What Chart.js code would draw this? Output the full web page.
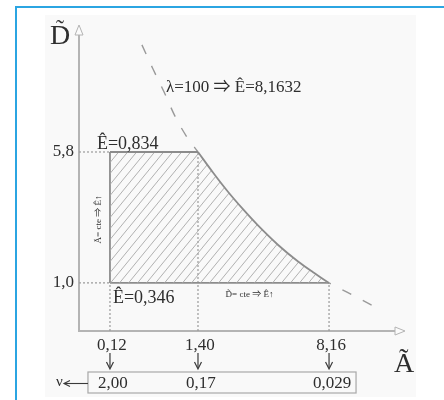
<!DOCTYPE html>
<html><head><meta charset="utf-8">
<script src="https://cdn.jsdelivr.net/npm/chart.js@4.4.0/dist/chart.umd.min.js"></script>
<style>html,body{margin:0;padding:0;background:#fff;}canvas{display:block;}</style>
</head><body>
<canvas id="c" width="444" height="400"></canvas>
<script>
// ---- data (schematic diagram units: 0..10 on each axis) ----
const xTickLabels = ['0,12', '1,40', '8,16'];
const xTickPos = [0.95, 3.65, 7.67];
const yTickLabels = ['5,8', '1,0'];
const yTickPos = [5.85, 1.57];
const nuLabels = ['2,00', '0,17', '0,029'];
const eLabels = ['Ê=0,834', 'Ê=0,346'];
const curveLabel = 'λ=100 ⇒ Ê=8,1632';
const sideLabelA = 'Ã= cte ⇒ Ê↑';
const sideLabelD = 'D\u0303= cte ⇒ Ê↑';
const axisNameY = 'D';
const axisNameX = 'Ã';
const nuName = 'ν';
const solidCurveX = [3.65, 4.11, 4.57, 5.03, 5.49, 6.10, 6.72, 7.18, 7.67];
const solidCurveY = [5.85, 5.18, 4.55, 3.98, 3.45, 2.82, 2.27, 1.92, 1.57];
const dashUpperX = [1.93, 2.27, 2.61, 2.94, 3.31, 3.65];
const dashUpperY = [9.35, 8.56, 7.81, 7.03, 6.34, 5.85];
const dashLowerX = [7.67, 8.22, 9.02];
const dashLowerY = [1.57, 1.27, 0.82];

const pts = (xs, ys) => xs.map((x, i) => ({x, y: ys[i]}));
const SERIF = '"Liberation Serif","Noto Sans CJK JP",serif';
const TXT = '#2e2e2e';

const canvas = document.getElementById('c');
const mainCtx = canvas.getContext('2d');
function hatchPattern() {
  const w = 9, h = 11;
  const t = document.createElement('canvas');
  t.width = w; t.height = h;
  const g = t.getContext('2d');
  g.strokeStyle = '#a8a8a8';
  g.lineWidth = 0.9;
  for (let n = 0; n <= 2; n++) {
    g.beginPath();
    g.moveTo(-w, h * (n + 1));
    g.lineTo(2 * w, h * (n - 2));
    g.stroke();
  }
  return mainCtx.createPattern(t, 'repeat');
}
const hatch = hatchPattern();

const xA = xTickPos[0], xB = xTickPos[1], xC = xTickPos[2];
const yTop = yTickPos[0], yBase = yTickPos[1];

const edge = '#8c8c8c', dotC = '#9a9a9a';
const line = (data, extra) => Object.assign({
  data, showLine: true, pointRadius: 0, borderColor: edge, borderWidth: 1.8,
  fill: false, tension: 0, clip: false
}, extra || {});

const datasets = [
  line(pts([xA, xB], [yTop, yTop]), {fill: {value: yBase}, backgroundColor: hatch}),
  line(pts(solidCurveX, solidCurveY), {fill: {value: yBase}, backgroundColor: hatch, cubicInterpolationMode: 'monotone'}),
  line(pts([xA, xA], [yBase, yTop])),
  line(pts([xA, xC], [yBase, yBase])),
  line(pts(dashUpperX, dashUpperY), {borderColor: '#9a9a9a', borderWidth: 1.4, borderDash: [10, 13], cubicInterpolationMode: 'monotone'}),
  line(pts(dashLowerX, dashLowerY), {borderColor: '#9a9a9a', borderWidth: 1.4, borderDash: [10, 13], borderDashOffset: 8}),
  // dotted guides
  line(pts([0, xA], [yTop, yTop]), {borderColor: dotC, borderWidth: 1.2, borderDash: [2, 2]}),
  line(pts([0, xA], [yBase, yBase]), {borderColor: dotC, borderWidth: 1.2, borderDash: [2, 2]}),
  line(pts([xA, xA], [0, yBase]), {borderColor: dotC, borderWidth: 1.2, borderDash: [2, 2]}),
  line(pts([xB, xB], [0, yTop]), {borderColor: dotC, borderWidth: 1.2, borderDash: [2, 2]}),
  line(pts([xC, xC], [0, yBase]), {borderColor: dotC, borderWidth: 1.2, borderDash: [2, 2]})
];

const decor = {
  id: 'decor',
  beforeDraw(chart) {
    const c = chart.ctx;
    c.save();
    c.fillStyle = '#ffffff';
    c.fillRect(0, 0, 444, 400);
    c.fillStyle = '#f9f9f9';
    c.fillRect(45, 15, 371, 382);
    c.strokeStyle = '#2ba5e2';
    c.lineWidth = 2;
    c.beginPath();
    c.moveTo(16, 400); c.lineTo(16, 7); c.lineTo(444, 7);
    c.stroke();
    c.restore();
  },
  beforeDatasetsDraw(chart) {
    const c = chart.ctx, xs = chart.scales.x, ys = chart.scales.y;
    const x0 = xs.getPixelForValue(0), y0 = ys.getPixelForValue(0);
    const xM = xs.getPixelForValue(10), yM = ys.getPixelForValue(10);
    c.save();
    c.strokeStyle = '#b4b4b4';
    c.lineWidth = 2;
    c.beginPath();
    c.moveTo(x0, yM + 6); c.lineTo(x0, y0); c.lineTo(xM - 6, y0);
    c.stroke();
    c.lineWidth = 1;
    c.fillStyle = '#fbfbfb';
    c.beginPath();
    c.moveTo(x0, yM); c.lineTo(x0 - 4, yM + 10); c.lineTo(x0 + 4, yM + 10); c.closePath();
    c.fill(); c.stroke();
    c.beginPath();
    c.moveTo(xM, y0); c.lineTo(xM - 10, y0 - 4); c.lineTo(xM - 10, y0 + 4); c.closePath();
    c.fill(); c.stroke();
    c.restore();
  },
  afterDatasetsDraw(chart) {
    const c = chart.ctx, xs = chart.scales.x, ys = chart.scales.y;
    const px = v => xs.getPixelForValue(v), py = v => ys.getPixelForValue(v);
    const y0 = py(0), x0 = px(0);
    c.save();
    c.fillStyle = TXT;
    c.strokeStyle = TXT;
    // axis names
    c.font = '28px ' + SERIF;
    c.textAlign = 'center';
    c.textBaseline = 'alphabetic';
    c.fillText(axisNameY, x0 - 19, 44);
    c.font = '24px ' + SERIF;
    c.fillText('\u02DC', x0 - 19, 36);
    c.font = '28px ' + SERIF;
    c.fillText(axisNameX, 404, 372);
    // x tick labels and arrows
    c.font = '17px ' + SERIF;
    xTickLabels.forEach((t, i) => {
      const x = px(xTickPos[i]);
      c.fillText(t, x + 2, y0 + 19);
      c.lineWidth = 1.2;
      c.strokeStyle = '#3a3a3a';
      c.beginPath(); c.moveTo(x, y0 + 22); c.lineTo(x, y0 + 37); c.stroke();
      c.beginPath(); c.moveTo(x - 3.5, y0 + 31); c.lineTo(x, y0 + 38); c.lineTo(x + 3.5, y0 + 31); c.stroke();
    });
    // y tick labels
    c.textAlign = 'right';
    c.textBaseline = 'middle';
    yTickLabels.forEach((t, i) => c.fillText(t, x0 - 5, py(yTickPos[i])));
    // nu box
    const bl = px(xA) - 22, br = px(xC) + 27, bt = y0 + 41, bb = y0 + 62;
    c.strokeStyle = '#a8a8a8';
    c.lineWidth = 1.2;
    c.strokeRect(bl, bt, br - bl, bb - bt);
    c.textAlign = 'center';
    c.textBaseline = 'middle';
    c.fillStyle = TXT;
    nuLabels.forEach((t, i) => c.fillText(t, px(xTickPos[i]) + 3, (bt + bb) / 2 + 1));
    // nu arrow
    c.font = '15px ' + SERIF;
    c.textAlign = 'left';
    c.fillText(nuName, bl - 32, (bt + bb) / 2);
    c.strokeStyle = '#3a3a3a';
    c.lineWidth = 1.1;
    const ay = (bt + bb) / 2 + 1;
    c.beginPath(); c.moveTo(bl, ay); c.lineTo(bl - 24, ay); c.stroke();
    c.beginPath(); c.moveTo(bl - 18, ay - 3); c.lineTo(bl - 24, ay); c.lineTo(bl - 18, ay + 3); c.stroke();
    // E labels
    c.font = '18px ' + SERIF;
    c.textBaseline = 'alphabetic';
    c.textAlign = 'left';
    c.fillText(eLabels[0], px(xA) - 13, py(yTop) - 3);
    c.fillText(eLabels[1], px(xA) + 3, py(yBase) + 20);
    // curve label
    c.font = '17px ' + SERIF;
    c.fillText(curveLabel, 166, 92);
    // small labels
    c.font = '9px ' + SERIF;
    c.textAlign = 'center';
    c.fillText(sideLabelD, (px(xB) + px(xC)) / 2 - 14, py(yBase) + 14);
    c.save();
    c.translate(px(xA) - 11, (py(yTop) + py(yBase)) / 2 + 2);
    c.rotate(-Math.PI / 2);
    c.textBaseline = 'middle';
    c.fillText(sideLabelA, 0, 0);
    c.restore();
    c.restore();
  }
};

new Chart(canvas, {
  type: 'scatter',
  data: {datasets},
  options: {
    responsive: false,
    animation: false,
    events: [],
    layout: {padding: {left: 79, right: 39, top: 25, bottom: 69}},
    plugins: {legend: {display: false}, tooltip: {enabled: false}},
    scales: {
      x: {type: 'linear', min: 0, max: 10, display: false},
      y: {type: 'linear', min: 0, max: 10, display: false}
    }
  },
  plugins: [decor]
});
</script>
</body></html>
